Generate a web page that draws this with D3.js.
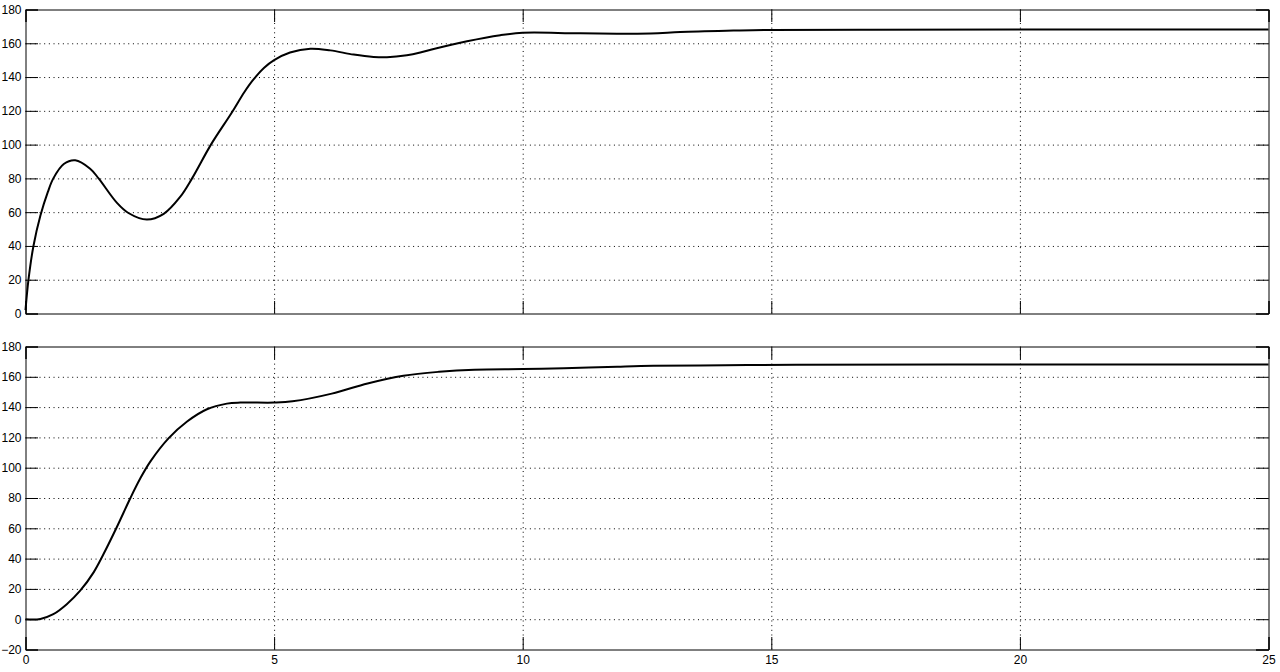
<!DOCTYPE html>
<html><head><meta charset="utf-8">
<script src="https://cdn.jsdelivr.net/npm/d3@7"></script>
<style>
html,body{margin:0;padding:0;background:#fff;}
svg{display:block;}
text{font-family:"Liberation Sans",Arial,sans-serif;font-size:12px;fill:#000;}
</style></head>
<body>
<svg id="chart" width="1280" height="672"></svg>
<script>
// ---- data ----
const xTicks = [0, 5, 10, 15, 20, 25];
const yTicksTop = [0, 20, 40, 60, 80, 100, 120, 140, 160, 180];
const yTicksBottom = [-20, 0, 20, 40, 60, 80, 100, 120, 140, 160, 180];

const topT = [0, 0.06, 0.16, 0.30, 0.45, 0.56, 0.77, 1.0, 1.3, 1.47, 1.84, 2.07, 2.44, 2.78, 3.11, 3.35, 3.73, 4.15, 4.4, 4.57, 4.8, 5.0, 5.32, 5.73, 6.13, 6.6, 7.0, 7.27, 7.67, 7.94, 8.21, 8.88, 9.55, 10, 11.16, 12.57, 13.17, 14.24, 15, 17, 20, 25];
const topV = [2, 20, 40, 58, 72, 80, 88.5, 90.7, 85.7, 80, 65.5, 59.5, 55.6, 59, 69, 80, 100, 119, 131, 138, 145.5, 150, 154.5, 156.8, 155.8, 153.3, 151.9, 151.7, 152.9, 154.5, 156.6, 161.2, 164.8, 166.2, 165.9, 165.8, 166.7, 167.5, 167.9, 168, 168.1, 168.1];

const botT = [0, 0.3, 0.56, 0.83, 1.1, 1.37, 1.57, 1.84, 2.11, 2.31, 2.51, 2.88, 3.25, 3.65, 4.05, 4.32, 5.0, 5.37, 6.16, 6.88, 7.6, 8.32, 9.03, 10, 10.83, 11.9, 12.63, 14.07, 15.5, 20, 25];
const botV = [0, 0.2, 3.3, 9.9, 18.8, 30.9, 43, 61, 80, 93, 104, 119.5, 130.5, 138.6, 142.3, 143, 143, 143.8, 148.9, 155.6, 160.7, 163.3, 164.7, 165.1, 165.6, 166.7, 167.3, 167.6, 168, 168.1, 168.1];

// ---- layout ----
const svg = d3.select("#chart");
const X0 = 25.5, X1 = 1268.5;
const panels = [
  {t: topT, v: topV, yDom: [0, 180], yTicks: yTicksTop, top: 9.5, bottom: 313.5, xLabels: false},
  {t: botT, v: botV, yDom: [-20, 180], yTicks: yTicksBottom, top: 346.5, bottom: 649.5, xLabels: true}
];
const x = d3.scaleLinear().domain([0, 25]).range([X0, X1]);

panels.forEach(p => {
  const y = d3.scaleLinear().domain(p.yDom).range([p.bottom, p.top]);
  const g = svg.append("g");
  const W = X1 - X0, H = p.bottom - p.top;

  // grid
  const gx = g.append("g").attr("transform", `translate(0,${p.bottom})`)
    .call(d3.axisBottom(x).tickValues(xTicks.slice(1, -1)).tickSize(-H).tickFormat(""));
  const gy = g.append("g").attr("transform", `translate(${X0},0)`)
    .call(d3.axisLeft(y).tickValues(p.yTicks.slice(1, -1)).tickSize(-W).tickFormat(""));
  [gx, gy].forEach(a => {
    a.select(".domain").remove();
    a.selectAll("line").attr("stroke", "#000").attr("stroke-width", 1).attr("stroke-dasharray", "1,3.67");
  });

  // axes with inward ticks
  const tl = 12.5;
  const left = g.append("g").attr("transform", `translate(${X0},0)`)
    .call(d3.axisLeft(y).tickValues(p.yTicks).tickSize(-tl).tickPadding(4).tickFormat(d3.format("d")));
  const right = g.append("g").attr("transform", `translate(${X1},0)`)
    .call(d3.axisRight(y).tickValues(p.yTicks).tickSize(-tl).tickFormat(""));
  const bottom = g.append("g").attr("transform", `translate(0,${p.bottom})`)
    .call(d3.axisBottom(x).tickValues(xTicks).tickSize(-tl).tickPadding(6).tickFormat(p.xLabels ? d3.format("d") : ""));
  const topAx = g.append("g").attr("transform", `translate(0,${p.top})`)
    .call(d3.axisTop(x).tickValues(xTicks).tickSize(-tl).tickFormat(""));
  [left, right, bottom, topAx].forEach(a => {
    a.selectAll("path.domain").attr("stroke", "#000").attr("stroke-width", 1);
    a.selectAll("line").attr("stroke", "#000");
    a.selectAll("text").attr("font-family", "'Liberation Sans', Arial, sans-serif").attr("font-size", 12).attr("fill", "#000");
  });
  left.selectAll("text").attr("x", -4);

  // data line
  const data = p.t.map((t, i) => [t, p.v[i]]);
  g.append("path").datum(data)
    .attr("fill", "none").attr("stroke", "#000").attr("stroke-width", 2)
    .attr("d", d3.line().x(d => x(d[0])).y(d => y(d[1])).curve(d3.curveCatmullRom.alpha(0.5)));
});
</script>
</body></html>
